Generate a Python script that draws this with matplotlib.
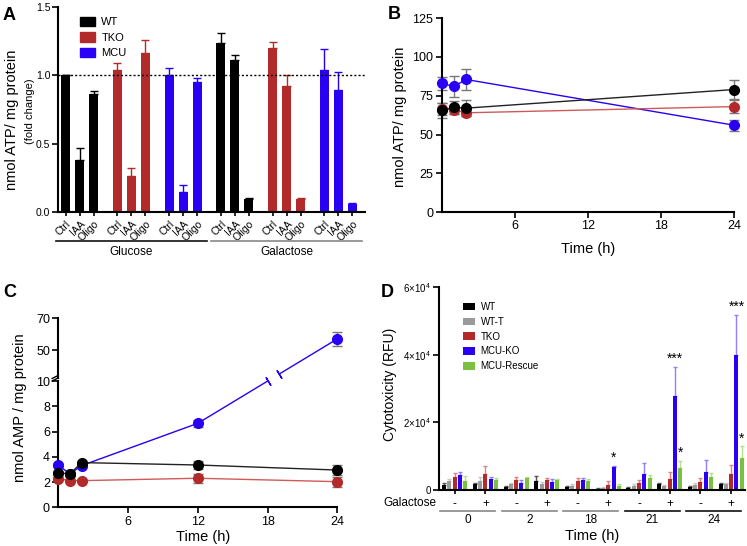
import numpy as np
import matplotlib
matplotlib.use("Agg")
import matplotlib.pyplot as plt
from matplotlib.patches import Patch

plt.rcParams['font.family'] = ['Liberation Sans', 'DejaVu Sans']
plt.rcParams['mathtext.fontset'] = 'custom'
plt.rcParams['mathtext.rm'] = 'Liberation Sans'
plt.rcParams['axes.linewidth'] = 1.5
plt.rcParams['xtick.major.width'] = 1.2
plt.rcParams['ytick.major.width'] = 1.2

BLACK = '#000000'
RED = '#b32a2a'
BLUE = '#2a00f5'
GRAY = '#9a9a9a'
GREEN = '#7ac142'

# ---- panel A data: fold change ATP ----
treatments = ['Ctrl', 'IAA', 'Oligo']
media = ['Glucose', 'Galactose']
genotypes_a = ['WT', 'TKO', 'MCU']
a_glucose = {'WT': [1.00, 0.38, 0.865], 'TKO': [1.04, 0.265, 1.165], 'MCU': [1.00, 0.15, 0.95]}
a_glucose_err = {'WT': [0.0, 0.09, 0.02], 'TKO': [0.05, 0.06, 0.09], 'MCU': [0.05, 0.05, 0.03]}
a_galactose = {'WT': [1.234, 1.11, 0.093], 'TKO': [1.198, 0.924, 0.097], 'MCU': [1.037, 0.893, 0.061]}
a_galactose_err = {'WT': [0.073, 0.039, 0.007], 'TKO': [0.048, 0.076, 0.004], 'MCU': [0.153, 0.134, 0.004]}

# ---- panel B data: ATP time course ----
b_time = [0, 1, 2, 24]
b_wt = [65.5, 67.5, 67, 79]
b_wt_err = [5, 4, 5, 6]
b_tko = [66.5, 66, 64, 68]
b_tko_err = [4, 3, 2, 4]
b_mcu = [83, 81, 85.5, 56]
b_mcu_err = [4, 6.5, 7, 3.5]

# ---- panel C data: AMP time course ----
c_time = [0, 1, 2, 12, 24]
c_wt = [2.74, 2.64, 3.54, 3.35, 2.95]
c_wt_err = [0.15, 0.15, 0.1, 0.35, 0.4]
c_tko = [2.27, 2.11, 2.11, 2.3, 2.03]
c_tko_err = [0.1, 0.1, 0.1, 0.35, 0.4]
c_mcu = [3.35, 2.64, 3.3, 6.65, 57]
c_mcu_err = [0.15, 0.15, 0.1, 0.3, 4.5]

# ---- panel D data: cytotoxicity ----
d_times = ['0', '2', '18', '21', '24']
d_gal = ['-', '+'] * 5
d_names = ['WT', 'WT-T', 'TKO', 'MCU-KO', 'MCU-Rescue']
d_colors = [BLACK, GRAY, RED, BLUE, GREEN]
d_err_colors = ['#555555', '#c8c8c8', '#e08080', '#8f80ff', '#b5e08a']
d_wt = [1480, 1680, 990, 2660, 790, 400, 690, 1680, 790, 1680]
d_wt_err = [500, 500, 300, 1500, 300, 200, 300, 300, 300, 300]
d_wtt = [2750, 2660, 1680, 1780, 1180, 690, 1280, 1280, 1480, 1680]
d_wtt_err = [500, 1100, 400, 500, 500, 300, 600, 300, 500, 300]
d_tko = [3950, 4740, 2960, 2960, 2660, 1380, 1970, 3160, 2270, 4640]
d_tko_err = [950, 2200, 1000, 700, 1000, 1300, 1000, 2300, 1150, 2800]
d_mcu = [4440, 3250, 2170, 2270, 2960, 6900, 4740, 27800, 5230, 40000]
d_mcu_err = [800, 700, 800, 900, 500, 300, 3200, 8600, 3700, 11800]
d_res = [2660, 2960, 3450, 2960, 2660, 1180, 3450, 6600, 3950, 9400]
d_res_err = [1500, 700, 300, 300, 600, 600, 1000, 2000, 1000, 3500]
d_stars = {(5, 3): '*', (7, 3): '***', (7, 4): '*', (9, 3): '***', (9, 4): '*'}

fig = plt.figure(figsize=(7.47, 5.46), dpi=100)

# ================= A =================
axA = fig.add_axes([0.0776, 0.6117, 0.411, 0.3755])
colors_a = {'WT': BLACK, 'TKO': RED, 'MCU': BLUE}
pos = []
labels = []
for m, (vals, errs) in enumerate([(a_glucose, a_glucose_err), (a_galactose, a_galactose_err)]):
    for g, gen in enumerate(genotypes_a):
        x = (m * 3 + g) * 3.7 + np.arange(3)
        axA.bar(x, vals[gen], width=0.65, color=colors_a[gen], zorder=2)
        axA.errorbar(x, vals[gen], yerr=[np.zeros(3), errs[gen]], fmt='none',
                     ecolor=colors_a[gen], elinewidth=1, capsize=3, capthick=1, zorder=1)
        pos += list(x)
        labels += treatments
axA.axhline(1.0, color='k', ls=(0, (1.5, 1.5)), lw=1, zorder=3)
axA.set_xlim(-0.55, 21.4)
axA.set_ylim(0, 1.5)
axA.set_yticks([0, 0.5, 1.0, 1.5])
axA.set_yticklabels(['0.0', '0.5', '1.0', '1.5'], fontsize=7.5)
axA.set_xticks(pos)
axA.set_xticklabels(labels, rotation=45, ha='right', rotation_mode='anchor', fontsize=7.5)
axA.tick_params(axis='x', length=3, pad=2)
axA.tick_params(axis='y', length=4, pad=1.5)
for s in ['top', 'right']:
    axA.spines[s].set_visible(False)
trA = axA.get_xaxis_transform()
for m, (name, col) in enumerate(zip(media, ['#111111', '#888888'])):
    x0 = m * 3 * 3.7 - 0.7
    x1 = (m * 3 + 2) * 3.7 + 2 + 0.7
    axA.plot([x0, x1], [-0.14, -0.14], color=col, lw=1.2, transform=trA, clip_on=False)
    axA.text((x0 + x1) / 2, -0.195, name, transform=trA, ha='center', va='center', fontsize=8.5)
axA.text(-0.15, 0.45, 'nmol ATP/ mg protein', transform=axA.transAxes, rotation=90,
         ha='center', va='center', fontsize=10.5)
axA.text(-0.092, 0.49, '(fold change)', transform=axA.transAxes, rotation=90,
         ha='center', va='center', fontsize=8)
hA = [Patch(color=colors_a[g]) for g in genotypes_a]
axA.legend(hA, genotypes_a, loc='upper left', bbox_to_anchor=(0.04, 1.0), frameon=False,
           fontsize=8, handlelength=1.3, handleheight=0.9, labelspacing=0.45, handletextpad=0.6)

# ================= B =================
axB = fig.add_axes([0.5913, 0.6117, 0.3913, 0.3549])
for y, e, c, lc in [(b_mcu, b_mcu_err, BLUE, BLUE), (b_tko, b_tko_err, RED, '#d05a5a'),
                    (b_wt, b_wt_err, BLACK, '#222222')]:
    axB.plot(b_time, y, color=lc, lw=1, zorder=2)
    axB.errorbar(b_time, y, yerr=e, fmt='none', ecolor='#777777', elinewidth=1,
                 capsize=3.5, capthick=1, zorder=1, clip_on=False)
    axB.plot(b_time, y, 'o', color=c, ms=7, zorder=3, clip_on=False)
axB.set_xlim(0, 24)
axB.set_ylim(0, 125)
axB.set_xticks([6, 12, 18, 24])
axB.set_yticks([0, 25, 50, 75, 100, 125])
axB.tick_params(labelsize=9, length=4, pad=2)
for s in ['top', 'right']:
    axB.spines[s].set_visible(False)
axB.set_ylabel('nmol ATP/ mg protein', fontsize=10.5)
axB.yaxis.set_label_coords(-0.12, 0.49)
axB.set_xlabel('Time (h)', fontsize=10.5)
axB.xaxis.set_label_coords(0.5, -0.155)

# ================= C (broken y axis) =================
Y_LO, Y_UP, GAP, K = 10.0, 33.6, 0.4, 0.1255


def fwd(y):
    y = np.asarray(y, float)
    return np.where(y <= Y_LO, y,
                    np.where(y <= Y_UP, Y_LO + (y - Y_LO) * GAP / (Y_UP - Y_LO),
                             Y_LO + GAP + (y - Y_UP) * K))


def inv(t):
    t = np.asarray(t, float)
    return np.where(t <= Y_LO, t,
                    np.where(t <= Y_LO + GAP, Y_LO + (t - Y_LO) * (Y_UP - Y_LO) / GAP,
                             Y_UP + (t - Y_LO - GAP) / K))


axC = fig.add_axes([0.078, 0.0709, 0.3735, 0.3461])
axC.set_yscale('function', functions=(fwd, inv))
axC.set_xlim(0, 24)
axC.set_ylim(0, 70)

# blue line is broken where it crosses the axis break
t_a, t_b = 10.0, 10.55
y12, y24 = fwd(c_mcu[3]), fwd(c_mcu[4])
xa = 12 + (t_a - y12) / (y24 - y12) * 12
xb = 12 + (t_b - y12) / (y24 - y12) * 12
axC.plot(c_time[:4] + [xa], c_mcu[:4] + [float(inv(t_a))], color=BLUE, lw=1, zorder=2)
axC.plot([xb, 24], [float(inv(t_b)), c_mcu[4]], color=BLUE, lw=1, zorder=2)
bb = axC.get_position()
W, H = bb.width * 7.47 * 100, bb.height * 5.46 * 100
ang = np.degrees(np.arctan(((y24 - y12) / fwd(70) * H) / (12 / 24 * W)))
axC.plot([xa, xb], [float(inv(t_a)), float(inv(t_b))], ls='none', marker=(2, 2, ang),
         ms=7, mew=1, color=BLUE, zorder=2)

for y, e, c, lc in [(c_tko, c_tko_err, RED, '#d05a5a'), (c_wt, c_wt_err, BLACK, '#222222')]:
    axC.plot(c_time, y, color=lc, lw=1, zorder=2)
for y, e, c in [(c_mcu, c_mcu_err, BLUE), (c_tko, c_tko_err, RED), (c_wt, c_wt_err, BLACK)]:
    axC.errorbar(c_time, y, yerr=e, fmt='none', ecolor='#777777', elinewidth=1,
                 capsize=3.5, capthick=1, zorder=1, clip_on=False)
    axC.plot(c_time, y, 'o', color=c, ms=7, zorder=3, clip_on=False)
axC.set_yticks([0, 2, 4, 6, 8, 10, 50, 70])
axC.set_yticklabels(['0', '2', '4', '6', '8', '10', '50', '70'])
axC.set_xticks([6, 12, 18, 24])
axC.tick_params(labelsize=9, length=4, pad=2)
for s in ['top', 'right', 'left']:
    axC.spines[s].set_visible(False)
trC = axC.get_yaxis_transform()
axC.plot([0, 0], [0, 10], color='k', lw=1.5, transform=trC, clip_on=False)
axC.plot([0, 0], [float(inv(10.25)), 70], color='k', lw=1.5, transform=trC, clip_on=False)
for off in [0.0, 0.2]:
    axC.plot([-0.022, 0.0], [float(inv(10.0 + off)), float(inv(10.25 + off))], color='k',
             lw=1, transform=trC, clip_on=False)
axC.set_ylabel('nmol AMP / mg protein', fontsize=10.5)
axC.yaxis.set_label_coords(-0.113, 0.525)
axC.set_xlabel('Time (h)', fontsize=10.5)
axC.xaxis.set_label_coords(0.52, -0.12)

# ================= D =================
axD = fig.add_axes([0.5877, 0.1026, 0.4096, 0.3718])
d_vals = [d_wt, d_wtt, d_tko, d_mcu, d_res]
d_errs = [d_wt_err, d_wtt_err, d_tko_err, d_mcu_err, d_res_err]
gx = np.arange(10)
for k in range(5):
    x = gx + (k - 2) * 0.171
    axD.bar(x, d_vals[k], width=0.13, color=d_colors[k], label=d_names[k], zorder=2)
    axD.errorbar(x, d_vals[k], yerr=[np.zeros(10), d_errs[k]], fmt='none',
                 ecolor=d_err_colors[k], elinewidth=1, capsize=1.5, capthick=1, zorder=1)
for (g, k), s in d_stars.items():
    top = d_vals[k][g] + d_errs[k][g]
    axD.text(g + (k - 2) * 0.171, top + 200, s, ha='center', va='bottom', fontsize=10)
axD.set_xlim(-0.51, 9.45)
axD.set_ylim(0, 60000)
axD.set_yticks([0, 20000, 40000, 60000])
axD.set_yticklabels(['0', r'$2{\times}10^4$', r'$4{\times}10^4$', r'$6{\times}10^4$'], fontsize=7)
axD.set_xticks(gx)
axD.set_xticklabels(d_gal, fontsize=8.5)
axD.tick_params(axis='x', length=3, pad=3)
axD.tick_params(axis='y', length=4, pad=2)
for s in ['top', 'right']:
    axD.spines[s].set_visible(False)
trD = axD.get_xaxis_transform()
axD.text(-0.58, -0.064, 'Galactose', transform=trD, ha='right', va='center', fontsize=8.5)
for i, t in enumerate(d_times):
    col = '#888888' if i < 3 else '#111111'
    axD.plot([2 * i - 0.47, 2 * i + 1.32], [-0.102, -0.102], color=col, lw=1.2,
             transform=trD, clip_on=False)
    axD.text(2 * i + 0.43, -0.15, t, transform=trD, ha='center', va='center', fontsize=8.5)
axD.text(0.5, -0.228, 'Time (h)', transform=axD.transAxes, ha='center', va='center',
         fontsize=10.5)
axD.set_ylabel('Cytotoxicity (RFU)', fontsize=10)
axD.yaxis.set_label_coords(-0.138, 0.52)
axD.legend(loc='upper left', bbox_to_anchor=(0.05, 0.97), frameon=False, fontsize=7,
           handlelength=1.2, handleheight=0.8, labelspacing=0.5, handletextpad=0.6)

# panel letters
for lab, x, y in [('A', 0.003, 0.987), ('B', 0.519, 0.989), ('C', 0.004, 0.48), ('D', 0.51, 0.48)]:
    fig.text(x, y, lab, fontsize=13, fontweight='bold', ha='left', va='top')

fig.savefig('out.png', dpi=100)
